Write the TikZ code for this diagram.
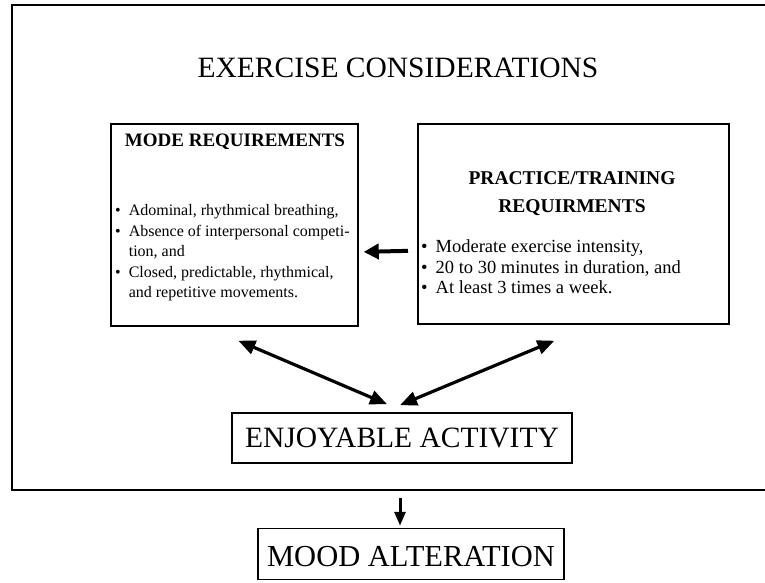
\documentclass[tikz,border=0pt]{standalone}
\usepackage{fontspec}
\setmainfont{Liberation Serif}
\usetikzlibrary{arrows.meta,positioning}
\tikzset{
  frame/.style={draw, line width=1.5pt},
  bigtext/.style={font=\fontsize{29.5}{34}\selectfont, inner sep=0pt},
  reqbox/.style={draw, line width=1.7pt, inner sep=0pt, anchor=north west},
  boxhead/.style={font=\fontsize{19}{28}\selectfont\bfseries, align=center, inner sep=0pt},
  itemlist/.style={anchor=north west, inner sep=0pt},
  bigarrow/.style={line width=4pt, -{Triangle[length=15pt,width=15pt]}},
  twoway/.style={line width=3.2pt, {Triangle[length=17pt,width=14pt]}-{Triangle[length=17pt,width=14pt]}}
}
\newcommand{\bulletrows}[1]{%
  \begin{tabular}{@{}l@{\hspace{8pt}}l@{}}#1\end{tabular}}

\begin{document}
\begin{tikzpicture}[x=1pt,y=-1pt]
  \useasboundingbox (0,0) rectangle (765,582);
  % outer frame, open to the right
  \draw[frame] (765,5) -- (12,5) -- (12,490) -- (765,490);
  \node[bigtext] (consider) at (398,68) {EXERCISE CONSIDERATIONS};

  % the two requirement boxes
  \node[reqbox, minimum width=247pt, minimum height=202pt] (mode) at (110,123) {};
  \node[reqbox, minimum width=311pt, minimum height=200pt] (practice) at (417,123) {};
  \node[boxhead] (modehead) at (235,142) {MODE REQUIREMENTS};
  \node[boxhead, font=\fontsize{19.5}{28}\selectfont\bfseries] (practicehead) at (572,194) {PRACTICE/TRAINING\\REQUIRMENTS};
  \node[itemlist, font=\fontsize{16}{20.5}\selectfont] (modeitems) at (115,201) {\bulletrows{%
    \textbullet & Adominal, rhythmical breathing,\\
    \textbullet & Absence of interpersonal competi-\\
     & tion, and\\
    \textbullet & Closed, predictable, rhythmical,\\
     & and repetitive movements.}};
  \node[itemlist, font=\fontsize{18.5}{20.5}\selectfont] (practiceitems) at (421,238) {\bulletrows{%
    \textbullet & Moderate exercise intensity,\\
    \textbullet & 20 to 30 minutes in duration, and\\
    \textbullet & At least 3 times a week.}};

  % activity and outcome
  \node[draw, line width=1.7pt, minimum width=340pt, minimum height=50pt, inner sep=0pt] (enjoy) at (402,438) {};
  \node[bigtext] (enjoytext) at (enjoy) {ENJOYABLE ACTIVITY};
  \node[draw, line width=1.5pt, minimum width=306pt, minimum height=51pt, inner sep=0pt] (mood) at (411,554) {};
  \node[bigtext, font=\fontsize{30.5}{34}\selectfont] (moodtext) at (411,557) {MOOD ALTERATION};
  \coordinate (down) at (400,498);

  % connectors
  \draw[bigarrow] ([xshift=-9pt,yshift=-27pt]practice.west) -- ([xshift=5pt,yshift=-27pt]mode.east);
  \draw[twoway] ([xshift=4pt,yshift=-14pt]mode.south) -- ([xshift=-15pt,yshift=8pt]enjoy.north);
  \draw[twoway] ([xshift=-19pt,yshift=-16pt]practice.south) -- ([xshift=-2pt,yshift=7pt]enjoy.north);
  \draw[line width=3pt, -{Triangle[length=14pt,width=11pt]}] (down) -- ([yshift=2pt]down |- mood.north);
\end{tikzpicture}
\end{document}
